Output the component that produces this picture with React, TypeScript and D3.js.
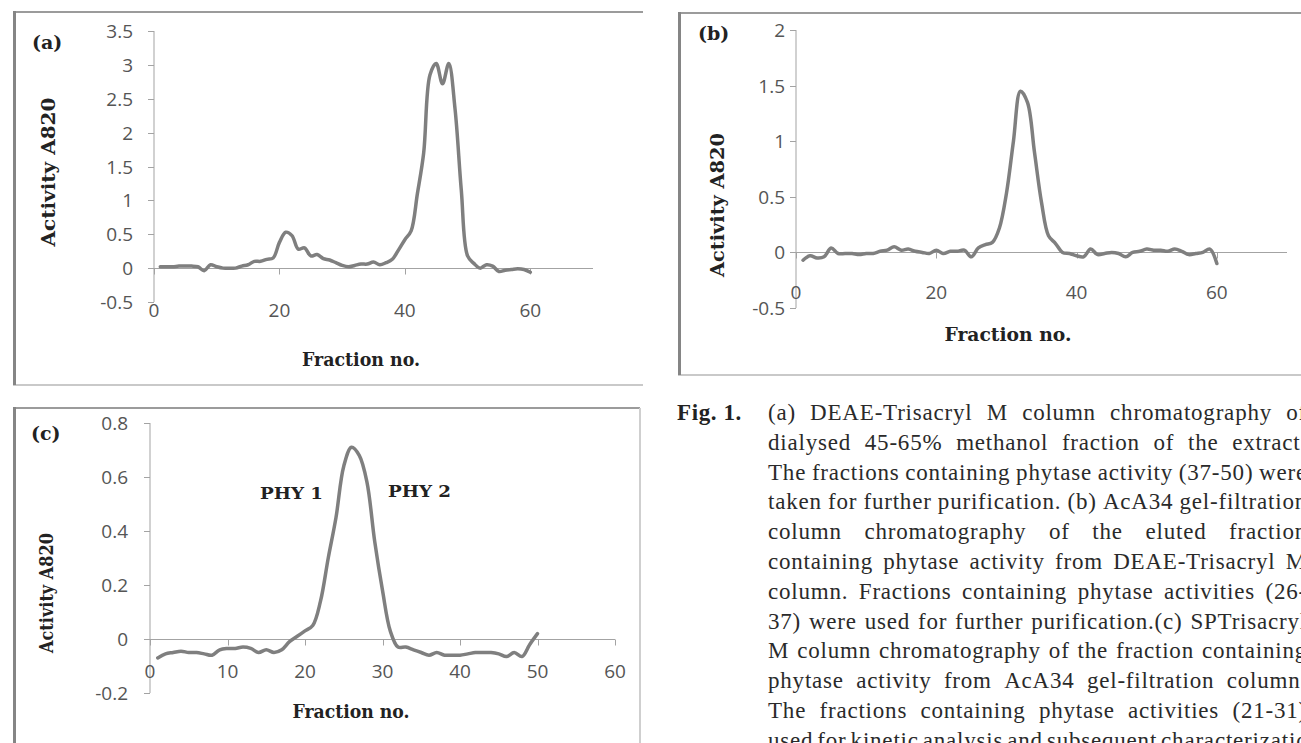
import * as d3 from 'd3';
import { useEffect, useRef } from 'react';

// activity (A820) per fraction, fractions start at 1
const activityA = [0.02, 0.02, 0.02, 0.03, 0.03, 0.03, 0.02, -0.04, 0.05, 0.02,
  0.0, 0.0, 0.0, 0.03, 0.05, 0.1, 0.1, 0.13, 0.15, 0.38,
  0.53, 0.48, 0.28, 0.3, 0.18, 0.2, 0.14, 0.12, 0.08, 0.04,
  0.02, 0.04, 0.06, 0.06, 0.09, 0.05, 0.08, 0.13, 0.27, 0.42,
  0.55, 1.1, 1.7, 2.85, 3.02, 2.72, 3.02, 2.35, 1.15, 0.18,
  0.07, 0.0, 0.05, 0.03, -0.05, -0.03, -0.02, -0.01, -0.02, -0.06];

const activityB = [-0.07, -0.03, -0.05, -0.04, 0.04, -0.01, -0.01, -0.01, -0.02, -0.01,
  -0.01, 0.01, 0.02, 0.05, 0.02, 0.03, 0.01, 0.0, -0.01, 0.02,
  -0.01, 0.01, 0.01, 0.02, -0.04, 0.04, 0.07, 0.09, 0.22, 0.53,
  1.0, 1.45, 1.35, 0.9, 0.45, 0.15, 0.08, 0.0, -0.01, -0.03,
  -0.04, 0.03, -0.02, -0.01, 0.0, -0.01, -0.04, 0.0, 0.01, 0.03,
  0.02, 0.02, 0.01, 0.03, 0.01, -0.02, -0.01, 0.0, 0.03, -0.1];

const activityC = [-0.07, -0.055, -0.05, -0.045, -0.05, -0.05, -0.055, -0.06, -0.04, -0.035,
  -0.035, -0.03, -0.035, -0.05, -0.04, -0.05, -0.04, -0.01, 0.01, 0.03,
  0.05, 0.14, 0.3, 0.45, 0.64, 0.71, 0.68, 0.58, 0.36, 0.18,
  0.03, -0.03, -0.03, -0.04, -0.05, -0.06, -0.05, -0.06, -0.06, -0.06,
  -0.055, -0.05, -0.05, -0.05, -0.055, -0.065, -0.05, -0.065, -0.02, 0.02];

const fractionTicksAB = [0, 20, 40, 60];
const fractionTicksC = [0, 10, 20, 30, 40, 50, 60];
const activityTicksA = [-0.5, 0, 0.5, 1, 1.5, 2, 2.5, 3, 3.5];
const activityTicksB = [-0.5, 0, 0.5, 1, 1.5, 2];
const activityTicksC = [-0.2, 0, 0.2, 0.4, 0.6, 0.8];
const peakNames = ['PHY 1', 'PHY 2'];

const captionLines = [
  '(a) DEAE-Trisacryl M column chromatography of',
  'dialysed 45-65% methanol fraction of the extract.',
  'The fractions containing phytase activity (37-50) were',
  'taken for further purification. (b) AcA34 gel-filtration',
  'column chromatography of the eluted fraction',
  'containing phytase activity from DEAE-Trisacryl M',
  'column. Fractions containing phytase activities (26-',
  '37) were used for further purification.(c) SPTrisacryl',
  'M column chromatography of the fraction containing',
  'phytase activity from AcA34 gel-filtration column.',
  'The fractions containing phytase activities (21-31)',
  'used for kinetic analysis and subsequent characterization.',
];

const tickFont = '"Open Sans", sans-serif';
const titleFont = '"DejaVu Serif", serif';

const panels = [
  {
    values: activityA, xMax: 70, yDomain: [-0.5, 3.5], xTicks: fractionTicksAB, yTicks: activityTicksA,
    left: 154, right: 593, top: 31, bottom: 302, yLabelX: 133, xLabelY: 317,
    tag: '(a)', tagX: 32, tagY: 49,
    yTitle: [49, 172, 149], xTitle: [361, 366, 118],
    box: { x0: 13, y0: 12, x1: 643, y1: 385, showBottom: true, showRight: false },
  },
  {
    values: activityB, xMax: 70, yDomain: [-0.5, 2], xTicks: fractionTicksAB, yTicks: activityTicksB,
    left: 796, right: 1287, top: 30, bottom: 308, yLabelX: 785, xLabelY: 299,
    tag: '(b)', tagX: 698, tagY: 40,
    yTitle: [718, 205, 144], xTitle: [1008, 341, 127],
    box: { x0: 678, y0: 13, x1: 1301, y1: 375, showBottom: true, showRight: false },
  },
  {
    values: activityC, xMax: 60, yDomain: [-0.2, 0.8], xTicks: fractionTicksC, yTicks: activityTicksC,
    left: 150, right: 615, top: 423, bottom: 693, yLabelX: 128, xLabelY: 678,
    tag: '(c)', tagX: 31, tagY: 440,
    yTitle: [47, 593, 120], xTitle: [351, 718, 117],
    box: { x0: 13, y0: 408, x1: 640, y1: 743, showBottom: false, showRight: true },
  },
];

function App() {
  const svgRef = useRef(null);

  useEffect(() => {
    const svg = d3.select(svgRef.current);
    svg.selectAll('*').remove();
    svg.append('rect').attr('width', 1301).attr('height', 743).attr('fill', '#fff');

    panels.forEach((p, pi) => {
      const g = svg.append('g');
      const b = p.box;
      // frame
      g.append('line').attr('x1', b.x0).attr('x2', b.x1).attr('y1', b.y0).attr('y2', b.y0)
        .attr('stroke', '#9b9b9b').attr('stroke-width', 2);
      if (b.showBottom) {
        g.append('line').attr('x1', b.x0).attr('x2', b.x1).attr('y1', b.y1).attr('y2', b.y1)
          .attr('stroke', '#c9c9c9').attr('stroke-width', 2);
      }
      if (b.showRight) {
        g.append('line').attr('x1', b.x1).attr('x2', b.x1).attr('y1', b.y0).attr('y2', b.y1)
          .attr('stroke', '#cfcfcf').attr('stroke-width', 2);
      }
      g.append('line').attr('x1', b.x0 + 1.5).attr('x2', b.x0 + 1.5).attr('y1', b.y0 - 1).attr('y2', b.y1)
        .attr('stroke', '#858585').attr('stroke-width', 3);

      const x = d3.scaleLinear().domain([0, p.xMax]).range([p.left, p.right]);
      const y = d3.scaleLinear().domain(p.yDomain).range([p.bottom, p.top]);

      const axisColor = '#a3a3a3';
      // y axis
      g.append('line').attr('x1', p.left).attr('x2', p.left).attr('y1', p.top).attr('y2', p.bottom)
        .attr('stroke', axisColor);
      g.selectAll('.ytick').data(p.yTicks).join('line')
        .attr('x1', p.left - 6).attr('x2', p.left)
        .attr('y1', d => Math.round(y(d)) + 0.5).attr('y2', d => Math.round(y(d)) + 0.5)
        .attr('stroke', axisColor);
      g.selectAll('.ylab').data(p.yTicks).join('text')
        .attr('x', p.yLabelX).attr('y', d => y(d) + 7)
        .attr('text-anchor', 'end')
        .style('font-family', tickFont).style('font-size', '19px').attr('fill', '#555')
        .text(d => String(d));

      // x axis on zero line
      const y0 = Math.round(y(0)) + 0.5;
      g.append('line').attr('x1', p.left).attr('x2', p.right).attr('y1', y0).attr('y2', y0)
        .attr('stroke', axisColor);
      g.selectAll('.xtick').data(p.xTicks).join('line')
        .attr('x1', d => Math.round(x(d)) + 0.5).attr('x2', d => Math.round(x(d)) + 0.5)
        .attr('y1', y0).attr('y2', y0 + 6)
        .attr('stroke', axisColor);
      g.selectAll('.xlab').data(p.xTicks).join('text')
        .attr('x', d => x(d)).attr('y', p.xLabelY)
        .attr('text-anchor', 'middle')
        .style('font-family', tickFont).style('font-size', '19px').attr('fill', '#555')
        .text(d => String(d));

      // series
      const line = d3.line<number>()
        .x((d, i) => x(i + 1))
        .y(d => y(d))
        .curve(d3.curveCatmullRom.alpha(0.5));
      g.append('path').attr('d', line(p.values))
        .attr('fill', 'none').attr('stroke', '#7f7f7f').attr('stroke-width', 3.5)
        .attr('stroke-linejoin', 'round').attr('stroke-linecap', 'round');

      // titles
      g.append('text').attr('x', p.tagX).attr('y', p.tagY)
        .style('font-family', titleFont).style('font-weight', 'bold').style('font-size', '19px')
        .attr('fill', '#222').text(p.tag);
      g.append('text')
        .attr('transform', `translate(${p.yTitle[0] + 6},${p.yTitle[1]}) rotate(-90)`)
        .attr('text-anchor', 'middle')
        .attr('textLength', p.yTitle[2]).attr('lengthAdjust', 'spacingAndGlyphs')
        .style('font-family', titleFont).style('font-weight', 'bold').style('font-size', '18px')
        .attr('fill', '#222').text('Activity A820');
      g.append('text')
        .attr('x', p.xTitle[0] - p.xTitle[2] / 2).attr('y', p.xTitle[1])
        .attr('textLength', p.xTitle[2]).attr('lengthAdjust', 'spacingAndGlyphs')
        .style('font-family', titleFont).style('font-weight', 'bold').style('font-size', '18px')
        .attr('fill', '#222').text('Fraction no.');

      if (pi === 2) {
        const spots = [[260, 499], [388, 497]];
        g.selectAll('.peak').data(peakNames).join('text')
          .attr('x', (d, i) => spots[i][0]).attr('y', (d, i) => spots[i][1])
          .attr('textLength', 63).attr('lengthAdjust', 'spacingAndGlyphs')
          .style('font-family', titleFont).style('font-weight', 'bold').style('font-size', '16px')
          .attr('fill', '#222').text(d => d);
      }
    });

    // caption
    const capFont = '"Liberation Serif", serif';
    svg.append('text').attr('x', 677).attr('y', 420)
      .style('font-family', capFont).style('font-weight', 'bold').style('font-size', '23px')
      .style('letter-spacing', '0.6px')
      .attr('fill', '#222').text('Fig. 1.');

    const startX = 768;
    const endX = 1307;
    captionLines.forEach((ln, li) => {
      const words = ln.split(' ');
      const baseY = 420 + li * 29.8;
      const texts = words.map(w => svg.append('text').attr('y', baseY)
        .style('font-family', capFont).style('font-size', '23px')
        .style('letter-spacing', '0.8px')
        .attr('fill', '#2a2a2a').text(w));
      const widths = texts.map(t => (t.node() as SVGTextElement).getComputedTextLength());
      const total = d3.sum(widths);
      const gap = words.length > 1 ? Math.max(4, (endX - startX - total) / (words.length - 1)) : 0;
      let cx = startX;
      texts.forEach((t, i) => {
        t.attr('x', cx);
        cx += widths[i] + gap;
      });
    });
  }, []);

  return (
    <div>
      <svg ref={svgRef} width={1301} height={743}
        style={{ position: 'absolute', left: 0, top: 0, display: 'block' }}></svg>
    </div>
  );
}

export default App;
